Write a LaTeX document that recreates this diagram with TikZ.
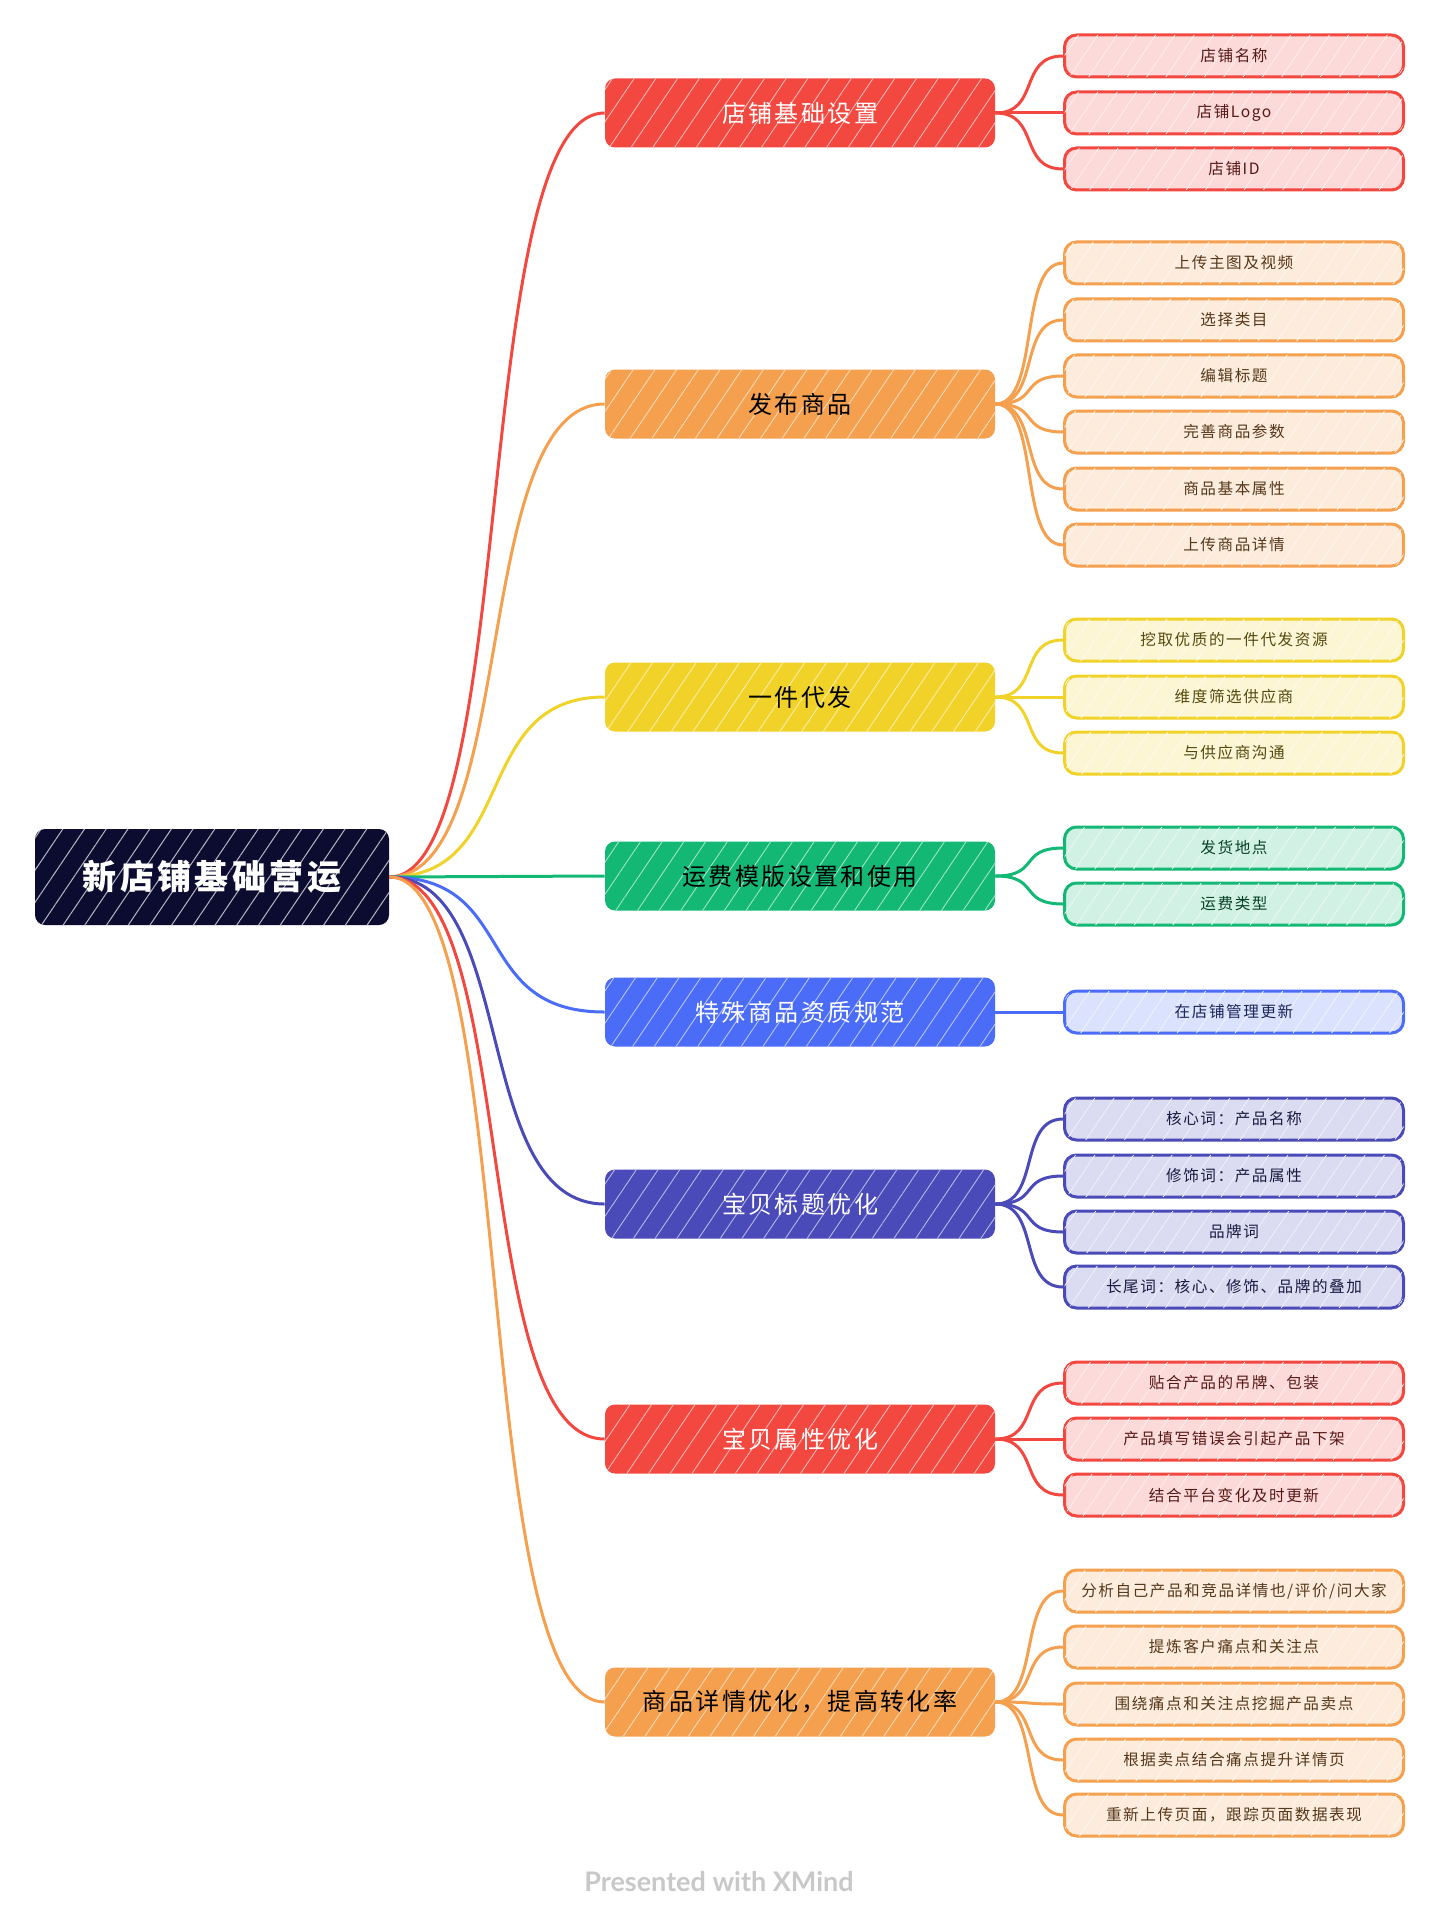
\documentclass[tikz,border=0pt]{standalone}
\usepackage{fontspec}
\setmainfont{Noto Sans CJK SC}[LetterSpace=10]
\newfontfamily\markfont{Lato}
\usetikzlibrary{patterns.meta}
\definecolor{mapNavy}{RGB}{12,12,48}
\definecolor{mapRed}{RGB}{242,72,64}
\definecolor{mapOrange}{RGB}{244,160,78}
\definecolor{mapYellow}{RGB}{240,210,40}
\definecolor{mapGreen}{RGB}{18,184,116}
\definecolor{mapBlue}{RGB}{74,108,247}
\definecolor{mapIndigo}{RGB}{74,74,184}
\definecolor{markGray}{RGB}{200,200,200}

\begin{document}
\begin{tikzpicture}[x=0.5pt,y=-0.5pt,
    rootbox/.style={fill=mapNavy,text=white,rounded corners=5pt,minimum width=177pt,minimum height=48pt,font=\fontsize{17}{20}\selectfont\bfseries,
      postaction={pattern={Lines[angle=56,distance=9pt,line width=0.5pt]},pattern color=white!70!mapNavy}},
    mainbox/.style 2 args={fill=#1,text=#2,rounded corners=5pt,minimum width=195pt,minimum height=34.5pt,font=\fontsize{12}{14}\selectfont,
      postaction={pattern={Lines[angle=56,distance=9pt,line width=0.45pt]},pattern color=#1!40!white}},
    leafbox/.style={draw=#1,line width=1.5pt,fill=#1!20!white,text=#1!35!black,rounded corners=6pt,minimum width=169.5pt,minimum height=21pt,font=\fontsize{7.8}{9}\selectfont,
      postaction={pattern={Lines[angle=56,distance=8pt,line width=0.4pt]},pattern color=#1!8!white}},
    link/.style={draw=#1,line width=1.5pt}
  ]
  \useasboundingbox (0,0) rectangle (1439,1920);

  \node[rootbox] (root) at (212,877) {新店铺基础营运};

  \node[mainbox={mapRed}{white}] (setup) at (800,113) {店铺基础设置};
  \node[mainbox={mapOrange}{black}] (publish) at (800,404) {发布商品};
  \node[mainbox={mapYellow}{black}] (dropship) at (800,697) {一件代发};
  \node[mainbox={mapGreen}{black}] (freight) at (800,876) {运费模版设置和使用};
  \node[mainbox={mapBlue}{white}] (special) at (800,1012) {特殊商品资质规范};
  \node[mainbox={mapIndigo}{white}] (title) at (800,1204) {宝贝标题优化};
  \node[mainbox={mapRed}{white}] (attr) at (800,1439) {宝贝属性优化};
  \node[mainbox={mapOrange}{black}] (detail) at (800,1702) {商品详情优化，提高转化率};

  % leaves
  \node[leafbox=mapRed] (setup1) at (1234,56) {店铺名称};
  \node[leafbox=mapRed] (setup2) at (1234,113) {店铺Logo};
  \node[leafbox=mapRed] (setup3) at (1234,169) {店铺ID};

  \node[leafbox=mapOrange] (publish1) at (1234,263) {上传主图及视频};
  \node[leafbox=mapOrange] (publish2) at (1234,320) {选择类目};
  \node[leafbox=mapOrange] (publish3) at (1234,376) {编辑标题};
  \node[leafbox=mapOrange] (publish4) at (1234,432) {完善商品参数};
  \node[leafbox=mapOrange] (publish5) at (1234,489) {商品基本属性};
  \node[leafbox=mapOrange] (publish6) at (1234,545) {上传商品详情};

  \node[leafbox=mapYellow] (dropship1) at (1234,640) {挖取优质的一件代发资源};
  \node[leafbox=mapYellow] (dropship2) at (1234,697) {维度筛选供应商};
  \node[leafbox=mapYellow] (dropship3) at (1234,753) {与供应商沟通};

  \node[leafbox=mapGreen] (freight1) at (1234,848) {发货地点};
  \node[leafbox=mapGreen] (freight2) at (1234,904) {运费类型};

  \node[leafbox=mapBlue] (special1) at (1234,1012) {在店铺管理更新};

  \node[leafbox=mapIndigo] (title1) at (1234,1119) {核心词：产品名称};
  \node[leafbox=mapIndigo] (title2) at (1234,1176) {修饰词：产品属性};
  \node[leafbox=mapIndigo] (title3) at (1234,1232) {品牌词};
  \node[leafbox=mapIndigo] (title4) at (1234,1287) {长尾词：核心、修饰、品牌的叠加};

  \node[leafbox=mapRed] (attr1) at (1234,1383) {贴合产品的吊牌、包装};
  \node[leafbox=mapRed] (attr2) at (1234,1439) {产品填写错误会引起产品下架};
  \node[leafbox=mapRed] (attr3) at (1234,1495) {结合平台变化及时更新};

  \node[leafbox=mapOrange] (detail1) at (1234,1591) {分析自己产品和竞品详情也/评价/问大家};
  \node[leafbox=mapOrange] (detail2) at (1234,1647) {提炼客户痛点和关注点};
  \node[leafbox=mapOrange] (detail3) at (1234,1704) {围绕痛点和关注点挖掘产品卖点};
  \node[leafbox=mapOrange] (detail4) at (1234,1760) {根据卖点结合痛点提升详情页};
  \node[leafbox=mapOrange] (detail5) at (1234,1815) {重新上传页面，跟踪页面数据表现};

  \node[text=markGray,font=\markfont\bfseries\fontsize{13.5}{15}\selectfont] (mark) at (719,1882) {Presented with XMind};

  % root to main topics
  \draw[link=mapRed] (root.east) .. controls +(130,0) and +(-135,0) .. (setup.west);
  \draw[link=mapOrange] (root.east) .. controls +(130,0) and +(-135,0) .. (publish.west);
  \draw[link=mapYellow] (root.east) .. controls +(130,0) and +(-135,0) .. (dropship.west);
  \draw[link=mapGreen] (root.east) -- (freight.west);
  \draw[link=mapBlue] (root.east) .. controls +(130,0) and +(-135,0) .. (special.west);
  \draw[link=mapIndigo] (root.east) .. controls +(130,0) and +(-135,0) .. (title.west);
  \draw[link=mapRed] (root.east) .. controls +(130,0) and +(-135,0) .. (attr.west);
  \draw[link=mapOrange] (root.east) .. controls +(130,0) and +(-135,0) .. (detail.west);

  % main topics to leaves
  \draw[link=mapRed] (setup.east) .. controls +(45,0) and +(-45,0) .. (setup1.west);
  \draw[link=mapRed] (setup.east) -- (setup2.west);
  \draw[link=mapRed] (setup.east) .. controls +(45,0) and +(-45,0) .. (setup3.west);

  \draw[link=mapOrange] (publish.east) .. controls +(45,0) and +(-45,0) .. (publish1.west);
  \draw[link=mapOrange] (publish.east) .. controls +(45,0) and +(-45,0) .. (publish2.west);
  \draw[link=mapOrange] (publish.east) .. controls +(45,0) and +(-45,0) .. (publish3.west);
  \draw[link=mapOrange] (publish.east) .. controls +(45,0) and +(-45,0) .. (publish4.west);
  \draw[link=mapOrange] (publish.east) .. controls +(45,0) and +(-45,0) .. (publish5.west);
  \draw[link=mapOrange] (publish.east) .. controls +(45,0) and +(-45,0) .. (publish6.west);

  \draw[link=mapYellow] (dropship.east) .. controls +(45,0) and +(-45,0) .. (dropship1.west);
  \draw[link=mapYellow] (dropship.east) -- (dropship2.west);
  \draw[link=mapYellow] (dropship.east) .. controls +(45,0) and +(-45,0) .. (dropship3.west);

  \draw[link=mapGreen] (freight.east) .. controls +(45,0) and +(-45,0) .. (freight1.west);
  \draw[link=mapGreen] (freight.east) .. controls +(45,0) and +(-45,0) .. (freight2.west);

  \draw[link=mapBlue] (special.east) -- (special1.west);

  \draw[link=mapIndigo] (title.east) .. controls +(45,0) and +(-45,0) .. (title1.west);
  \draw[link=mapIndigo] (title.east) .. controls +(45,0) and +(-45,0) .. (title2.west);
  \draw[link=mapIndigo] (title.east) .. controls +(45,0) and +(-45,0) .. (title3.west);
  \draw[link=mapIndigo] (title.east) .. controls +(45,0) and +(-45,0) .. (title4.west);

  \draw[link=mapRed] (attr.east) .. controls +(45,0) and +(-45,0) .. (attr1.west);
  \draw[link=mapRed] (attr.east) -- (attr2.west);
  \draw[link=mapRed] (attr.east) .. controls +(45,0) and +(-45,0) .. (attr3.west);

  \draw[link=mapOrange] (detail.east) .. controls +(45,0) and +(-45,0) .. (detail1.west);
  \draw[link=mapOrange] (detail.east) .. controls +(45,0) and +(-45,0) .. (detail2.west);
  \draw[link=mapOrange] (detail.east) .. controls +(45,0) and +(-45,0) .. (detail3.west);
  \draw[link=mapOrange] (detail.east) .. controls +(45,0) and +(-45,0) .. (detail4.west);
  \draw[link=mapOrange] (detail.east) .. controls +(45,0) and +(-45,0) .. (detail5.west);
\end{tikzpicture}
\end{document}
